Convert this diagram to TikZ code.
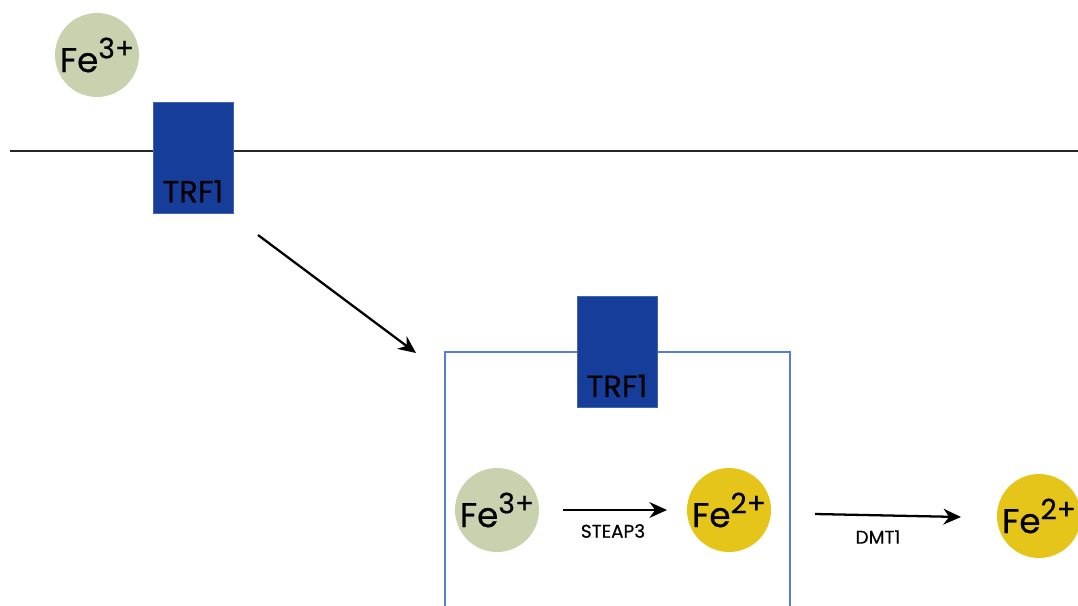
\documentclass[tikz,border=0pt]{standalone}
\usepackage{fontspec}
\setmainfont{Poppins}[FakeBold=0.4]
\usetikzlibrary{arrows.meta,positioning}

\definecolor{ferric}{HTML}{C9D1AE}
\definecolor{ferrous}{HTML}{E5C51A}
\definecolor{trfblue}{HTML}{163D9A}
\definecolor{cellline}{HTML}{5B7BD5}

% ion label with a large raised charge
\newcommand{\ionlabel}[2]{#1\raisebox{0.4em}{\fontsize{16}{16}\selectfont #2}}

\tikzset{
    ion/.style={circle, minimum size=1.68cm, inner sep=0pt, font=\fontsize{19.5}{19.5}\selectfont},
    receptor/.style={rectangle, fill=trfblue, draw=trfblue!80!white, minimum width=1.6cm, minimum height=2.22cm, inner sep=0pt},
    reclabel/.style={font=\fontsize{17.5}{17.5}\selectfont, anchor=south, inner sep=0pt},
    flow/.style={line width=1.3pt, -{Stealth[length=10pt,width=9pt]}},
    enzyme/.style={font=\fontsize{10.5}{10.5}\selectfont, inner sep=0pt}
}

\begin{document}
\begin{tikzpicture}[x=0.02cm, y=-0.02cm]

    % Page frame (pixel grid of the reference)
    \useasboundingbox (0,0) rectangle (1078,605);
    \clip (0,0) rectangle (1078,605);

    % Cell membrane
    \coordinate (memL) at (10,151);
    \coordinate (memR) at (1078,151);
    \draw[line width=1.1pt, black!85] (memL) -- (memR);

    % Endosome outline (open at the bottom)
    \draw[cellline, line width=0.8pt] (445,610) -- (445,352) -- (790,352) -- (790,610);

    % Receptors
    \node[receptor] (trfA) at (193,157.5) {};
    \node[reclabel] (trfAlbl) at ([yshift=0.21cm]trfA.south) {TRF1};
    \node[receptor] (trfB) at (617,352) {};
    \node[reclabel] (trfBlbl) at ([yshift=0.21cm]trfB.south) {TRF1};

    % Iron ions
    \node[ion, fill=ferric] (feOut) at (97,55) {\ionlabel{Fe}{3+}};
    \node[ion, fill=ferric] (feIn) at (497,510) {\ionlabel{Fe}{3+}};
    \node[ion, fill=ferrous] (feRed) at (729,510) {\ionlabel{Fe}{2+}};
    \node[ion, fill=ferrous] (feCyt) at (1039,516) {\ionlabel{Fe}{2+}};

    % Arrow ends
    \coordinate (endoS) at (258,235);
    \coordinate (endoE) at (416,353);
    \coordinate (steapS) at (563,510);
    \coordinate (steapE) at (667,510);
    \coordinate (dmtS) at (815,514);
    \coordinate (dmtE) at (961,517);

    % Endocytosis and reduction/transport steps
    \draw[flow] (endoS) -- (endoE);
    \draw[flow] (steapS) -- (steapE);
    \draw[flow] (dmtS) -- (dmtE);

    \node[enzyme] (steap) at (613,531) {STEAP3};
    \node[enzyme] (dmt) at (878,537) {DMT1};

\end{tikzpicture}
\end{document}
